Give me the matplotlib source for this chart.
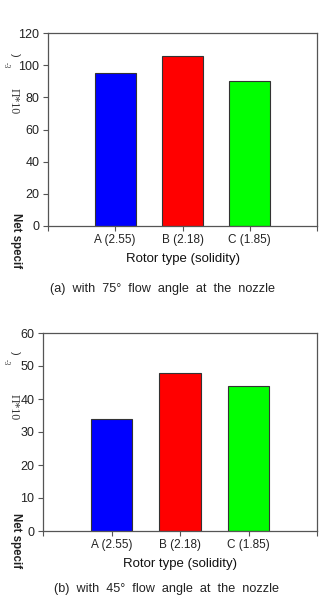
#---Packages---#
import numpy as np
import matplotlib
matplotlib.use('Agg')
import matplotlib.pyplot as plt
#---Packages---#

###-----Data-----###
rotor_types = ['A (2.55)', 'B (2.18)', 'C (1.85)']
power_75deg = [95, 106, 90]   # (a) 75 deg flow angle
power_45deg = [34, 48, 44]    # (b) 45 deg flow angle
bar_colors = ['#0000ff', '#ff0000', '#00ff00']
###-----Data-----###

plt.rcParams['font.family'] = ['Liberation Sans', 'DejaVu Sans']

fig = plt.figure(figsize=(3.21, 6.04), dpi=100)

W = 321.0
H = 604.0

def px_axes(left, top, right, bottom):
    #converts pixel box to figure fractions
    return fig.add_axes([left / W, 1 - bottom / H, (right - left) / W, (bottom - top) / H])

def draw_panel(ax, values, ymax, ystep):
    x = np.arange(1, len(values) + 1)
    ax.bar(x, values, width=0.61, color=bar_colors, edgecolor='#333333', linewidth=0.8)
    ax.set_xlim(0, len(values) + 1)
    ax.set_ylim(0, ymax)
    ax.set_yticks(np.arange(0, ymax + 1, ystep))
    ax.set_xticks(np.arange(0, len(values) + 2))
    ax.set_xticklabels([''] + rotor_types + [''])
    for s in ax.spines.values():
        s.set_color('#555555')
        s.set_linewidth(0.9)
    ax.tick_params(direction='out', length=3.6, width=0.8, color='#555555',
                   labelsize=8.5, pad=2.5, labelcolor='#222222')
    ax.tick_params(axis='y', labelsize=9)
    ax.set_xlabel('Rotor type (solidity)', fontsize=9.5, labelpad=5, color='#111111')

###-----Top panel-----###
ax1 = px_axes(48, 33, 317, 226)
draw_panel(ax1, power_75deg, 120, 20)

###-----Bottom panel-----###
ax2 = px_axes(43, 333, 317, 531)
draw_panel(ax2, power_45deg, 60, 10)

###-----Garbled y labels (pieces as in the scan)-----###
def ylabel_pieces(y_paren, y_exp, y_pi, y_net):
    fig.text(15 / W, 1 - y_paren / H, ')', rotation=270, ha='center', va='center',
             fontsize=8, color='#333333')
    fig.text(6 / W, 1 - y_exp / H, '-3', rotation=270, ha='center', va='center',
             fontsize=5.5, color='#333333', family='Liberation Serif')
    fig.text(14 / W, 1 - y_pi / H, '\u03a0*10', rotation=270, ha='center', va='center',
             fontsize=8.5, color='#333333', family='Liberation Serif')
    fig.text(16 / W, 1 - y_net / H, 'Net specif', rotation=270, ha='center', va='center',
             fontsize=8.3, fontweight='bold', color='#222222')

ylabel_pieces(55, 65, 101, 241)
ylabel_pieces(353, 362, 407, 541)

###-----Captions-----###
fig.text(163 / W, 1 - 289 / H, '(a)  with  75\u00b0  flow  angle  at  the  nozzle',
         ha='center', va='center', fontsize=9.1, color='#222222')
fig.text(167 / W, 1 - 589 / H, '(b)  with  45\u00b0  flow  angle  at  the  nozzle',
         ha='center', va='center', fontsize=9.1, color='#222222')

fig.savefig('out.png', dpi=100)
